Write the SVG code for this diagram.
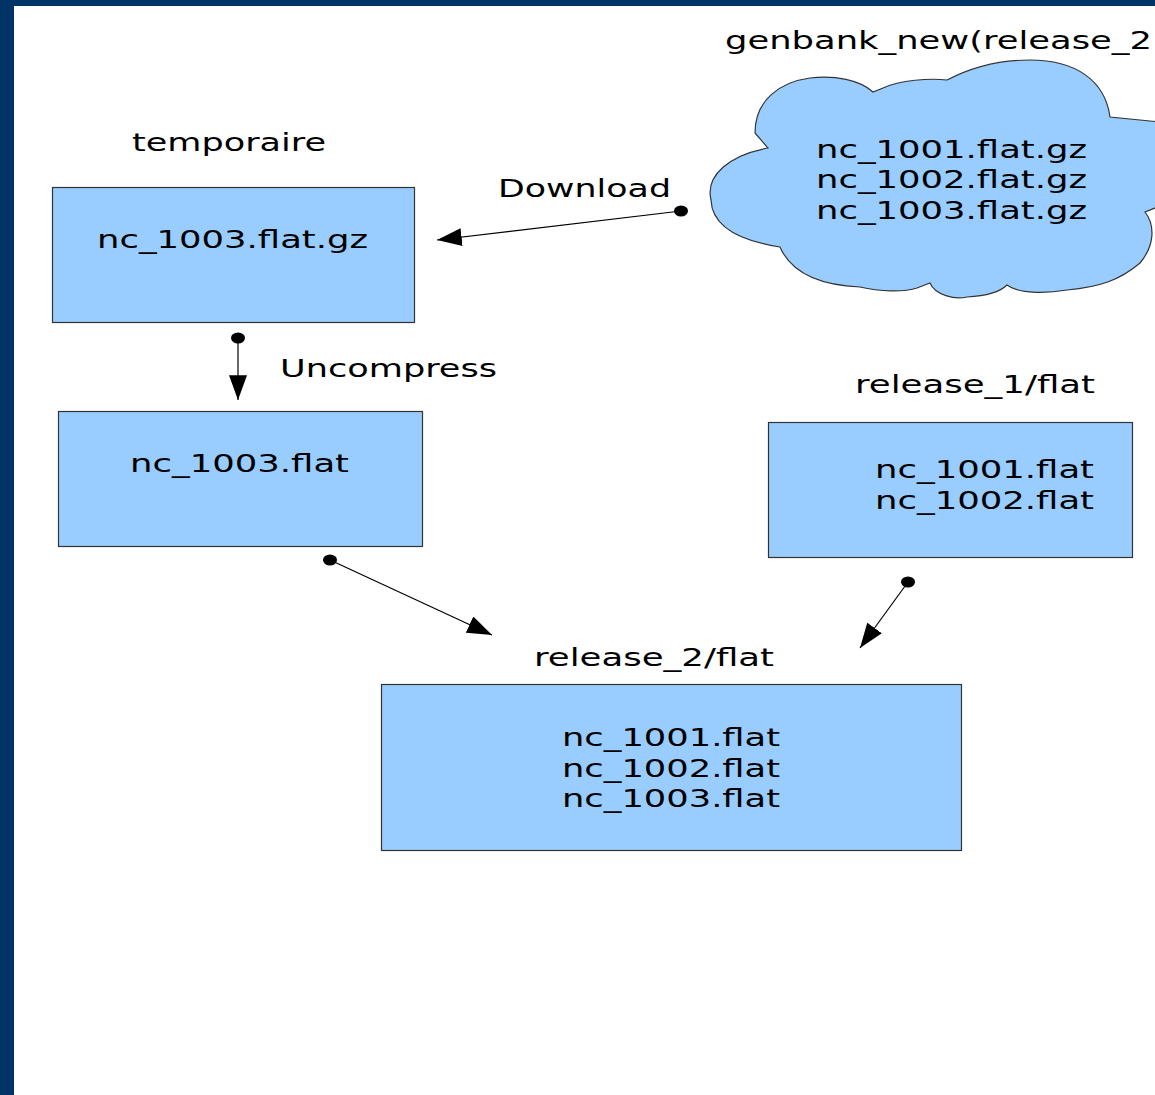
<svg xmlns="http://www.w3.org/2000/svg" width="1155" height="1095" viewBox="0 0 1155 1095">
<style>
.box{fill:#99ccff;stroke:#333333;stroke-width:1.2}
.t{font-family:"DejaVu Sans","Liberation Sans",sans-serif;font-size:25.5px;fill:#000}
.c{stroke:#000;stroke-width:1.2;fill:none;marker-start:url(#dot);marker-end:url(#arr)}
</style>
<defs>
<marker id="arr" markerUnits="userSpaceOnUse" markerWidth="26" markerHeight="18" refX="22" refY="8" orient="auto" viewBox="0 0 23 16">
<path d="M0,0 L22,8 L0,16 Z" fill="#000"/>
</marker>
<marker id="dot" markerUnits="userSpaceOnUse" markerWidth="16" markerHeight="14" refX="8" refY="7" orient="0" viewBox="0 0 16 14">
<ellipse cx="8" cy="7" rx="7" ry="5.5" fill="#000"/>
</marker>
</defs>
<rect x="0" y="0" width="1155" height="1095" fill="#003366"/>
<rect x="14" y="6" width="1141" height="1089" fill="#ffffff"/>

<g id="cloud">
<path class="box" d="M768,148 C730,155 705,175 711,200 C712,225 735,240 780,247 C790,270 815,285 860,287 C880,292 905,292 917,288 L930,283 C935,295 955,300 967,297 C985,296 1000,292 1007,285 C1020,295 1050,293 1067,290 C1100,287 1120,280 1140,263 C1155,245 1155,225 1145,212 L1160,206 L1160,122 L1110,117 C1105,80 1075,60 1030,60 C1000,60 970,68 947,80 C930,78 900,80 883,88 L873,92 C860,80 835,75 810,78 C780,82 755,100 755,133 Z"/>
<text class="t" x="725" y="49" textLength="427" lengthAdjust="spacingAndGlyphs">genbank_new(release_2</text>
<text class="t" x="816" y="158" textLength="271" lengthAdjust="spacingAndGlyphs">nc_1001.flat.gz</text>
<text class="t" x="816" y="188" textLength="271" lengthAdjust="spacingAndGlyphs">nc_1002.flat.gz</text>
<text class="t" x="816" y="219" textLength="271" lengthAdjust="spacingAndGlyphs">nc_1003.flat.gz</text>
</g>

<g id="temporaire">
<text class="t" x="132" y="151" textLength="194" lengthAdjust="spacingAndGlyphs">temporaire</text>
<rect class="box" x="52.5" y="187.5" width="362" height="135"/>
<text class="t" x="97" y="248" textLength="271" lengthAdjust="spacingAndGlyphs">nc_1003.flat.gz</text>
</g>

<g id="flat">
<rect class="box" x="58.5" y="411.5" width="364" height="135"/>
<text class="t" x="130" y="472" textLength="219" lengthAdjust="spacingAndGlyphs">nc_1003.flat</text>
</g>

<g id="release1">
<text class="t" x="855" y="393" textLength="240" lengthAdjust="spacingAndGlyphs">release_1/flat</text>
<rect class="box" x="768.5" y="422.5" width="364" height="135"/>
<text class="t" x="875" y="478" textLength="219" lengthAdjust="spacingAndGlyphs">nc_1001.flat</text>
<text class="t" x="875" y="509" textLength="219" lengthAdjust="spacingAndGlyphs">nc_1002.flat</text>
</g>

<g id="release2">
<text class="t" x="534" y="666" textLength="240" lengthAdjust="spacingAndGlyphs">release_2/flat</text>
<rect class="box" x="381.5" y="684.5" width="580" height="166"/>
<text class="t" x="562" y="746" textLength="218" lengthAdjust="spacingAndGlyphs">nc_1001.flat</text>
<text class="t" x="562" y="777" textLength="218" lengthAdjust="spacingAndGlyphs">nc_1002.flat</text>
<text class="t" x="562" y="807" textLength="218" lengthAdjust="spacingAndGlyphs">nc_1003.flat</text>
</g>

<g id="connectors">
<line class="c" x1="681" y1="211" x2="437" y2="240"/>
<text class="t" x="498" y="197" textLength="173" lengthAdjust="spacingAndGlyphs">Download</text>
<line class="c" x1="238" y1="338" x2="238" y2="400"/>
<text class="t" x="280" y="377" textLength="217" lengthAdjust="spacingAndGlyphs">Uncompress</text>
<line class="c" x1="330" y1="560" x2="492" y2="635"/>
<line class="c" x1="908" y1="582" x2="860" y2="648"/>
</g>
</svg>
